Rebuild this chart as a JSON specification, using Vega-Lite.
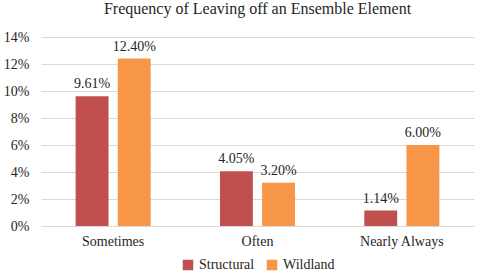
{
  "$schema": "https://vega.github.io/schema/vega-lite/v6.json",
  "width": 477,
  "height": 279,
  "autosize": {"type": "fit", "contains": "padding"},
  "padding": {"left": 3, "right": 3, "top": 1, "bottom": 7},
  "background": "white",
  "title": {"text": "Frequency of Leaving off an Ensemble Element", "font": "Liberation Serif", "fontSize": 16, "fontWeight": "normal", "color": "#262626", "offset": 13},
  "data": {"values": [
    {"cat": "Sometimes", "series": "Structural", "v": 0.0961, "label": "9.61%"},
    {"cat": "Sometimes", "series": "Wildland", "v": 0.124, "label": "12.40%"},
    {"cat": "Often", "series": "Structural", "v": 0.0405, "label": "4.05%"},
    {"cat": "Often", "series": "Wildland", "v": 0.032, "label": "3.20%"},
    {"cat": "Nearly Always", "series": "Structural", "v": 0.0114, "label": "1.14%"},
    {"cat": "Nearly Always", "series": "Wildland", "v": 0.06, "label": "6.00%"}
  ]},
  "encoding": {
    "x": {"field": "cat", "type": "nominal", "sort": ["Sometimes", "Often", "Nearly Always"], "title": null,
      "scale": {"paddingInner": 0.48, "paddingOuter": 0.24},
      "axis": {"labelAngle": 0, "labelFont": "Liberation Serif", "labelFontSize": 14, "labelColor": "#262626", "ticks": false, "domainColor": "#d9d9d9", "labelPadding": 8}},
    "xOffset": {"field": "series", "type": "nominal", "scale": {"paddingInner": 0.22}},
    "y": {"field": "v", "type": "quantitative", "title": null,
      "scale": {"domain": [0, 0.14]},
      "axis": {"format": ".0%", "values": [0, 0.02, 0.04, 0.06, 0.08, 0.1, 0.12, 0.14], "labelFont": "Liberation Serif", "labelFontSize": 14, "labelColor": "#262626", "ticks": false, "domain": false, "gridColor": "#d9d9d9", "labelPadding": 12}}
  },
  "layer": [
    {"mark": {"type": "bar"},
     "encoding": {"color": {"field": "series", "type": "nominal", "title": null,
        "scale": {"domain": ["Structural", "Wildland"], "range": ["#C0504D", "#F79646"]},
        "legend": {"orient": "bottom", "direction": "horizontal", "symbolType": "square", "symbolSize": 110, "symbolStrokeWidth": 0, "labelFont": "Liberation Serif", "labelFontSize": 14, "labelColor": "#262626", "columnPadding": 10, "offset": 10}}}},
    {"mark": {"type": "text", "dy": -12, "font": "Liberation Serif", "fontSize": 14, "color": "#262626"},
     "encoding": {"text": {"field": "label"}}}
  ],
  "config": {"view": {"stroke": null}, "font": "Liberation Serif", "legend": {"layout": {"bottom": {"anchor": "middle"}}}}
}
